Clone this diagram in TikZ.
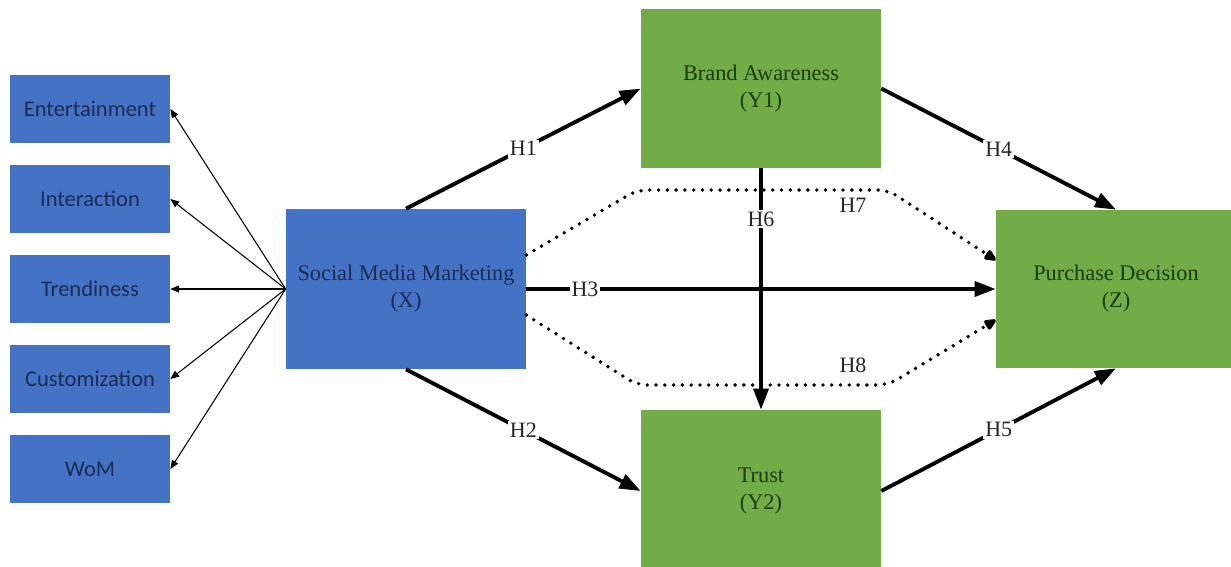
\documentclass[tikz,border=0pt]{standalone}
\usepackage{fontspec}
\setmainfont{Liberation Serif}
\newfontfamily\serifface{Liberation Serif}
\newfontfamily\dimfont{Carlito}
\usetikzlibrary{arrows.meta,calc}

\definecolor{boxblue}{HTML}{4472C4}
\definecolor{boxgreen}{HTML}{70AD47}
\definecolor{navytext}{HTML}{1B2B55}
\definecolor{greentext}{HTML}{1A3A0C}
\definecolor{labeltext}{HTML}{262626}

\begin{document}
\begin{tikzpicture}[x=0.02cm, y=-0.02cm,
  dimbox/.style={fill=boxblue, minimum width=3.2cm, minimum height=1.36cm,
    inner sep=0pt, text=navytext, font=\dimfont\fontsize{12.8}{15}\selectfont},
  mainbox/.style={minimum width=4.8cm, minimum height=3.2cm, inner sep=0pt,
    align=center, font=\serifface\fontsize{12.7}{15.3}\selectfont},
  bluebox/.style={mainbox, fill=boxblue, text=navytext},
  greenbox/.style={mainbox, fill=boxgreen, text=greentext},
  facetarrow/.style={-{Triangle[length=5pt,width=4pt]}, line width=0.6pt},
  hyparrow/.style={-{Triangle[length=12pt,width=8.5pt]}, line width=2.2pt},
  dotarrow/.style={line width=2.2pt, line cap=round,
    dash pattern=on 0pt off 5pt, rounded corners=6pt,
    -{Triangle[length=8pt,width=6.5pt,round=false]}},
  hlabel/.style={fill=white, inner sep=1pt, text=labeltext,
    font=\serifface\fontsize{12.5}{15}\selectfont},
  plainlabel/.style={inner sep=1pt, text=labeltext,
    font=\serifface\fontsize{12.5}{15}\selectfont}
]
\clip (0,0) rectangle (1231,566);
\fill[white] (0,0) rectangle (1231,566);

% dimensions of social media marketing
\node[dimbox] (ent) at (90,109) {Entertainment};
\node[dimbox] (int) at (90,199) {Interaction};
\node[dimbox] (tre) at (90,289) {Trendiness};
\node[dimbox] (cus) at (90,379) {Customization};
\node[dimbox] (wom) at (90,469) {WoM};

% constructs
\node[bluebox]  (smm) at (406,289) {Social Media Marketing\\(X)};
\node[greenbox, minimum height=3.18cm] (ba) at (761,88.5) {Brand Awareness\\(Y1)};
\node[greenbox, minimum height=3.24cm] (tr) at (761,491) {Trust\\(Y2)};
\node[greenbox, minimum height=3.16cm] (pd) at (1116,289) {Purchase Decision\\(Z)};

% reflective indicators
\foreach \d in {ent,int,tre,cus,wom}
  \draw[facetarrow] (smm.west) -- (\d.east);

% mediated paths
\draw[dotarrow] ($(smm.east)+(0,-34)$) -- (637,190) -- (888,190) -- ($(pd.west)+(0,-29)$);
\draw[dotarrow] ($(smm.east)+(0,26)$) -- (637,385) -- (888,385) -- ($(pd.west)+(0,31)$);
\node[plainlabel] (h7) at (853,205) {H7};
\node[plainlabel] (h8) at (853,365) {H8};

% direct hypotheses
\draw[hyparrow] (smm.north) -- node[hlabel, pos=0.5] {H1} (ba.west);
\draw[hyparrow] (smm.south) -- node[hlabel, pos=0.5] {H2} (tr.west);
\draw[hyparrow] (smm.east) -- node[hlabel, pos=0.125] {H3} (pd.west);
\draw[hyparrow] (ba.east) -- node[hlabel, pos=0.5] {H4} (pd.north);
\draw[hyparrow] (tr.east) -- node[hlabel, pos=0.5] {H5} (pd.south);
\draw[hyparrow] (ba.south) -- node[hlabel, pos=0.21] {H6} (tr.north);
\end{tikzpicture}
\end{document}
